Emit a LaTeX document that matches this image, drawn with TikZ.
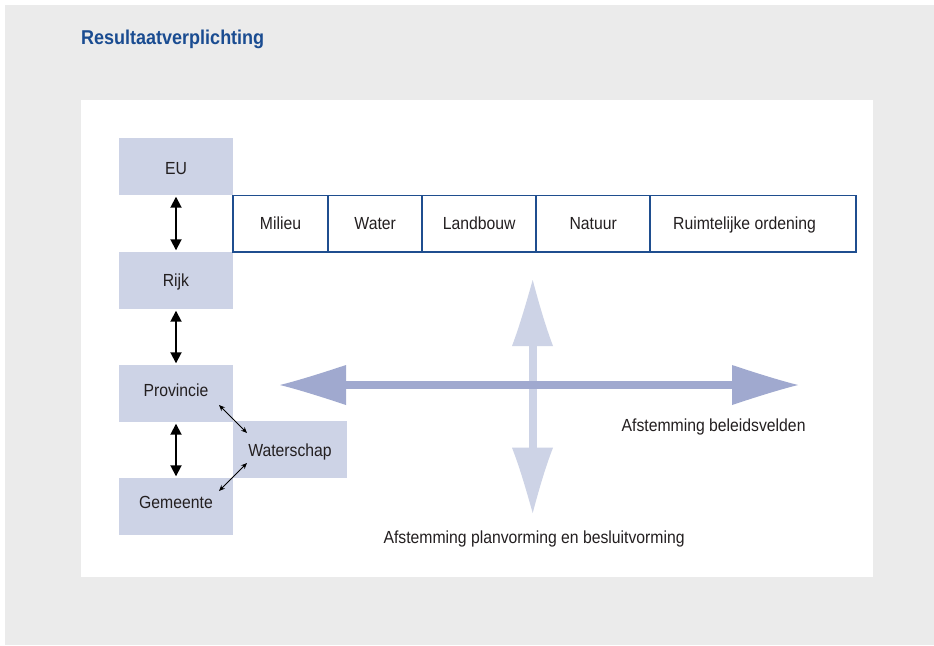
\documentclass[tikz,border=0pt]{standalone}
\usepackage{fontspec}
\setmainfont{Liberation Sans}[FakeStretch=0.9]
\usetikzlibrary{arrows.meta,calc}
\definecolor{pagegray}{HTML}{EBEBEB}
\definecolor{levelfill}{HTML}{CDD3E6}
\definecolor{fieldline}{HTML}{1F4E8F}
\definecolor{titleblue}{HTML}{1A4C91}
\definecolor{inktext}{HTML}{231F20}
\definecolor{crossh}{HTML}{A0A9CF}
\definecolor{crossv}{HTML}{CDD3E6}
\begin{document}
\begin{tikzpicture}[x=1pt,y=-1pt,
  every node/.style={inner sep=0pt, text=inktext, font=\fontsize{17.5}{21}\selectfont,
    text height=12.5pt, text depth=0pt},
  level/.style={fill=levelfill, minimum width=114pt, minimum height=57pt},
  field/.style={draw=fieldline, line width=1.5pt, fill=white, minimum height=56.5pt},
  updown/.style={draw=black, line width=1.8pt, {Triangle[length=11pt,width=11pt]}-{Triangle[length=11pt,width=11pt]}, shorten >=1.5pt, shorten <=1.5pt},
  thinlink/.style={draw=black, line width=0.8pt, {Stealth[length=6pt,width=5pt]}-{Stealth[length=6pt,width=5pt]}}
]
\useasboundingbox (0,0) rectangle (934,645);
% page background and white panel
\fill[pagegray] (5,5) rectangle (934,645);
\fill[white] (81,100) rectangle (873,577);

% title
\node[anchor=base west, text=titleblue, font=\fontsize{20}{24}\selectfont\bfseries, text height=] (title) at (81,44) {Resultaatverplichting};

% government levels
\node[level, text height=16.5pt] (eu)   at (176,166.5) {EU};
\node[level, text height=11pt]   (rijk) at (176,280.5) {Rijk};
\node[level, text height=6.5pt]  (prov) at (176,393.5) {Provincie};
\node[level, text height=4.5pt]  (gem)  at (176,506.5) {Gemeente};
\node[level, text height=13.5pt] (ws)   at (290,449.5) {Waterschap};

\draw[updown] (eu.south) -- (rijk.north);
\draw[updown] (rijk.south) -- (prov.north);
\draw[updown] (prov.south) -- (gem.north);

\coordinate (p1) at (219,405);
\coordinate (w1) at (247,433);
\coordinate (w2) at (247,463);
\coordinate (g1) at (219,491);
\draw[thinlink] (p1) -- (w1);
\draw[thinlink] (w2) -- (g1);

% policy fields
\node[field, minimum width=95pt]   (milieu)   at (280.5,223.5) {Milieu};
\node[field, minimum width=94.5pt] (water)    at (375.2,223.5) {Water};
\node[field, minimum width=114pt]  (landbouw) at (479.2,223.5) {Landbouw};
\node[field, minimum width=114pt]  (natuur)   at (593.2,223.5) {Natuur};
\node[field, minimum width=206pt]  (ruimte)   at (753,223.5) {Ruimtelijke ordening\hspace*{17pt}};

% vertical coordination arrow
\fill[crossv] (529,340) rectangle (536.5,452);
\fill[crossv] (532.7,280) .. controls (527,300) and (520,325) .. (512,346) -- (553,346) .. controls (545,325) and (538,300) .. (532.7,280) -- cycle;
\fill[crossv] (532.7,513) .. controls (527,493) and (520,468) .. (512,447.7) -- (553,447.7) .. controls (545,468) and (538,493) .. (532.7,513) -- cycle;

% horizontal coordination arrow
\fill[crossh] (340,381) rectangle (738,389);
\fill[crossh] (280,385) .. controls (300,380) and (325,372) .. (346,365) -- (346,405) .. controls (325,398) and (300,390) .. (280,385) -- cycle;
\fill[crossh] (798,385) .. controls (778,380) and (753,372) .. (732,365) -- (732,405) .. controls (753,398) and (778,390) .. (798,385) -- cycle;

% captions
\node[anchor=base west] (capH) at (621.5,431.5) {Afstemming beleidsvelden};
\node[anchor=base west] (capV) at (383.3,543) {Afstemming planvorming en besluitvorming};
\end{tikzpicture}
\end{document}
